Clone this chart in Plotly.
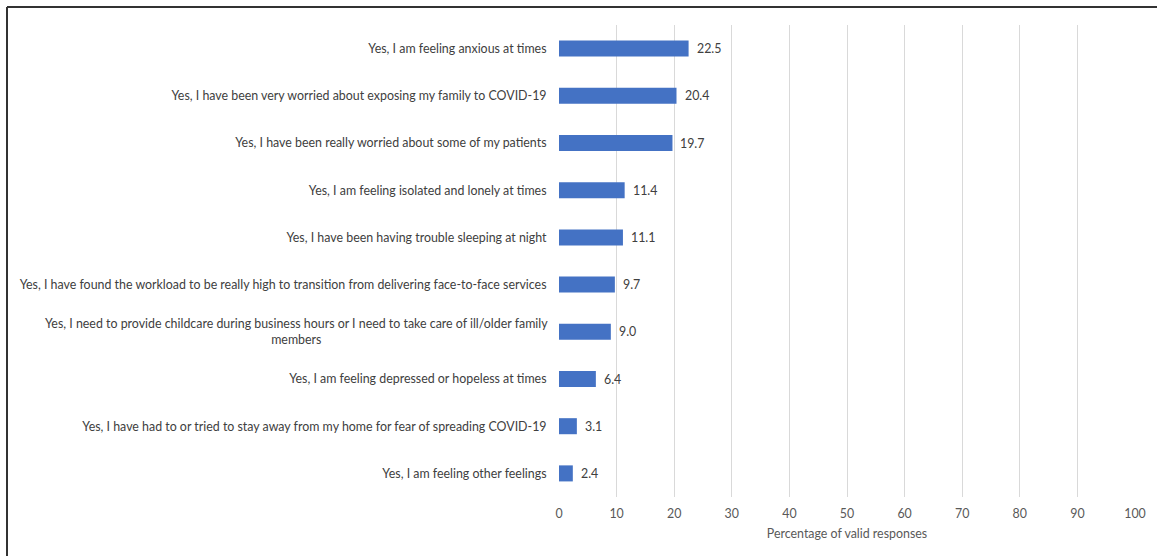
import plotly.graph_objects as go

categories = [
    "Yes, I am feeling anxious at times",
    "Yes, I have been very worried about exposing my family to COVID-19",
    "Yes, I have been really worried about some of my patients",
    "Yes, I am feeling isolated and lonely at times",
    "Yes, I have been having trouble sleeping at night",
    "Yes, I have found the workload to be really high to transition from delivering face-to-face services",
    "Yes, I need to provide childcare during business hours or I need to take care of ill/older family<br>members",
    "Yes, I am feeling depressed or hopeless at times",
    "Yes, I have had to or tried to stay away from my home for fear of spreading COVID-19",
    "Yes, I am feeling other feelings",
]
values = [22.5, 20.4, 19.7, 11.4, 11.1, 9.7, 9.0, 6.4, 3.1, 2.4]
x_ticks = [0, 10, 20, 30, 40, 50, 60, 70, 80, 90, 100]
x_title = "Percentage of valid responses"

FONT = "Lato, Liberation Sans, sans-serif"
TXT = "#404040"
TXT2 = "#595959"
FS = 12.4

W, H = 1157, 556
ml, mr, mt, mb = 559, 22, 25, 59
pw, ph = W - ml - mr, H - mt - mb

def px_x(p):
    return (p - ml) / pw

def px_y(p):
    return (H - mb - p) / ph

idx = list(range(len(categories)))
tick_text = [c if "<br>" not in c else "" for c in categories]

fig = go.Figure(go.Bar(
    y=idx,
    x=values,
    orientation="h",
    marker=dict(color="#4472C4", line=dict(width=0)),
    width=0.34,
    hoverinfo="skip",
))

annotations = []
for i, v in zip(idx, values):
    annotations.append(dict(
        x=v, y=i, xref="x", yref="y", text=f"{v:.1f}", showarrow=False,
        xanchor="left", yanchor="middle", xshift=6,
        font=dict(family=FONT, size=FS, color=TXT),
    ))
for i, c in zip(idx, categories):
    if "<br>" in c:
        annotations.append(dict(
            x=0, y=i, xref="paper", yref="y", text=c, showarrow=False,
            xanchor="right", yanchor="middle", xshift=-9, align="center",
            font=dict(family=FONT, size=FS, color=TXT),
        ))

fig.update_layout(
    width=W, height=H,
    margin=dict(l=ml, r=mr, t=mt, b=mb, autoexpand=False),
    paper_bgcolor="white", plot_bgcolor="white",
    showlegend=False,
    font=dict(family=FONT, size=FS, color=TXT),
    xaxis=dict(
        range=[0, 100], tickvals=x_ticks, ticktext=[str(t) for t in x_ticks],
        showgrid=True, gridcolor="#D9D9D9", gridwidth=1,
        zeroline=False, showline=False, automargin=False,
        ticks="outside", ticklen=5, tickcolor="rgba(0,0,0,0)",
        tickfont=dict(family=FONT, size=FS, color=TXT2),
        title=dict(text=x_title, font=dict(family=FONT, size=FS, color=TXT2), standoff=9),
    ),
    yaxis=dict(
        range=[len(categories) - 0.5, -0.5],
        tickvals=idx,
        ticktext=tick_text,
        showgrid=False, zeroline=False, showline=False, automargin=False,
        ticks="outside", ticklen=9, tickcolor="rgba(0,0,0,0)",
        tickfont=dict(family=FONT, size=FS, color=TXT),
    ),
    annotations=annotations,
    shapes=[
        dict(type="line", xref="paper", yref="paper",
             x0=px_x(7), x1=px_x(1170), y0=px_y(7), y1=px_y(7),
             line=dict(color="#333333", width=2)),
        dict(type="line", xref="paper", yref="paper",
             x0=px_x(7), x1=px_x(7), y0=px_y(7), y1=px_y(570),
             line=dict(color="#333333", width=2)),
    ],
)

fig.write_html(
    "out.html",
    config={"displayModeBar": False},
    post_script="document.body.style.margin='0';document.body.style.overflow='hidden';",
)
